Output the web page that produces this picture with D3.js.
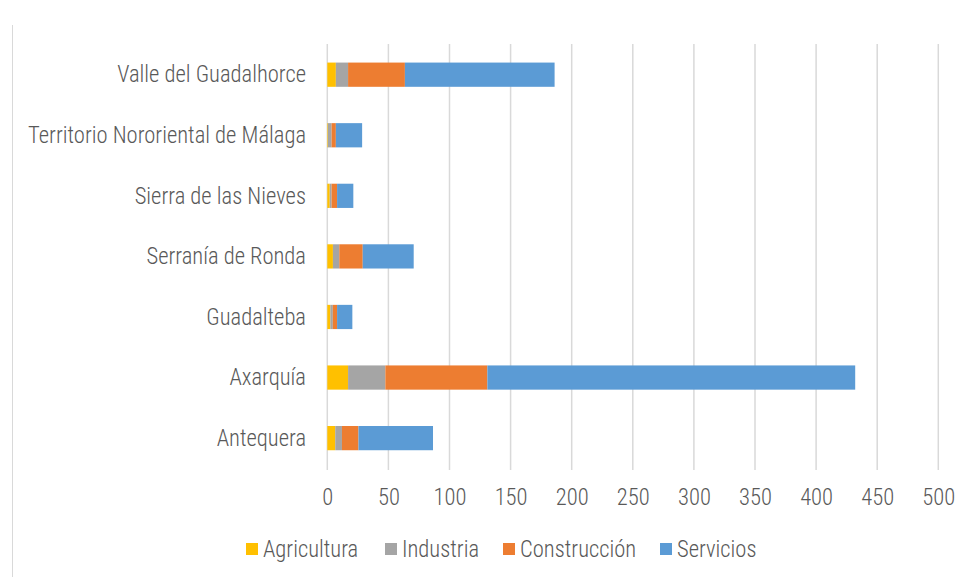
<!DOCTYPE html>
<html><head><meta charset="utf-8">
<script src="https://cdn.jsdelivr.net/npm/d3@7"></script>
<style>
html,body{margin:0;padding:0;background:#fff;}
svg text{font-family:"Liberation Sans Narrow","Arial Narrow","Roboto Condensed","Liberation Sans",sans-serif;fill:#595959;font-weight:300;}
</style></head>
<body><svg id="c" width="969" height="577"></svg>
<script>
const categories = ["Valle del Guadalhorce","Territorio Nororiental de Málaga","Sierra de las Nieves","Serranía de Ronda","Guadalteba","Axarquía","Antequera"];
const seriesNames = ["Agricultura","Industria","Construcción","Servicios"];
const agricultura  = [7, 0.5, 2, 4.6, 2.5, 17, 6.5];
const industria    = [10, 3, 1.5, 5.2, 2, 30.5, 5.5];
const construccion = [46.5, 3.5, 4.5, 19.2, 3.5, 83.5, 13.5];
const servicios    = [122.5, 21.5, 13.3, 41.7, 12.5, 301, 61];
const xTicks = [0,50,100,150,200,250,300,350,400,450,500];
const colors = ["#FFC000","#A5A5A5","#ED7D31","#5B9BD5"];

const FS = 24, SX = 0.94;

const rows = categories.map((c,i)=>({cat:c, Agricultura:agricultura[i], Industria:industria[i], "Construcción":construccion[i], Servicios:servicios[i]}));
const stack = d3.stack().keys(seriesNames)(rows);

const svg = d3.select("#c");
const x = d3.scaleLinear().domain([0,500]).range([327.3,938.3]);
const y = d3.scaleBand().domain(categories).range([44.4,468.4]).paddingInner(0.6).paddingOuter(0.3);

// left border line
svg.append("line").attr("x1",12.5).attr("x2",12.5).attr("y1",25).attr("y2",577).attr("stroke","#d9d9d9").attr("stroke-width",1);

// gridlines
svg.append("g").selectAll("line").data(xTicks).join("line")
  .attr("x1",d=>x(d)).attr("x2",d=>x(d)).attr("y1",44).attr("y2",470)
  .attr("stroke","#d9d9d9").attr("stroke-width",1.5);

// bars
svg.append("g").selectAll("g").data(stack).join("g")
  .attr("fill",(d,i)=>colors[i])
  .selectAll("rect").data(d=>d).join("rect")
  .attr("x",d=>x(d[0])).attr("width",d=>Math.max(0,x(d[1])-x(d[0])))
  .attr("y",d=>y(d.data.cat)).attr("height",y.bandwidth());

function narrow(sel){
  sel.each(function(){
    const t = d3.select(this);
    const xx = +t.attr("x") || 0;
    t.attr("x", xx/SX).attr("transform", `scale(${SX},1)`);
  });
}

// x axis labels
const xa = svg.append("g").attr("transform","translate(0,470)")
  .call(d3.axisBottom(x).tickValues(xTicks).tickSize(0).tickPadding(18));
xa.select(".domain").remove();
xa.selectAll("text").attr("font-size",FS).attr("font-family",null).attr("fill",null);
xa.selectAll(".tick").each(function(){
  const g = d3.select(this);
  const tr = g.attr("transform");
  const tx = +tr.match(/translate\(([-\d.]+)/)[1];
  g.attr("transform", `translate(${tx},0) scale(${SX},1)`);
});

// y axis labels
const ya = svg.append("g").attr("transform","translate(327,0)")
  .call(d3.axisLeft(y).tickSize(0).tickPadding(21));
ya.select(".domain").remove();
ya.selectAll("text").attr("font-size",FS).attr("font-family",null).attr("fill",null);
narrow(ya.selectAll("text"));

// legend
const legX = [246, 385, 503, 660];
const lg = svg.append("g").selectAll("g").data(seriesNames).join("g")
  .attr("transform",(d,i)=>`translate(${legX[i]},549)`);
lg.append("rect").attr("x",0).attr("y",-6).attr("width",12).attr("height",12).attr("fill",(d,i)=>colors[i]);
lg.append("text").attr("x",17).attr("dy","0.35em").attr("font-size",FS).text(d=>d).call(narrow);
</script></body></html>
